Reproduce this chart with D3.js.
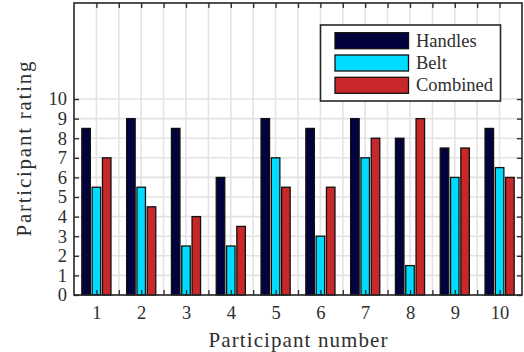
<!DOCTYPE html>
<html><head><meta charset="utf-8">
<script src="https://cdn.jsdelivr.net/npm/d3@7"></script>
<style>
html,body{margin:0;padding:0;background:#fff;}
svg{display:block;}
text{font-family:"Liberation Serif","DejaVu Serif",serif;fill:#2e2e2e;}
</style></head>
<body>
<svg id="chart" width="524" height="352"></svg>
<script>
const participants = [1,2,3,4,5,6,7,8,9,10];
const handles  = [8.5, 9, 8.5, 6, 9, 8.5, 9, 8, 7.5, 8.5];
const belt     = [5.5, 5.5, 2.5, 2.5, 7, 3, 7, 1.5, 6, 6.5];
const combined = [7, 4.5, 4, 3.5, 5.5, 5.5, 8, 9, 7.5, 6];
const seriesNames = ["Handles","Belt","Combined"];
const seriesColors = ["#02023c","#00dcff","#c8282a"];
const yTicks = [0,1,2,3,4,5,6,7,8,9,10];
const xTicks = participants;

const series = [handles, belt, combined];
const svg = d3.select("#chart");
const FONT = "Liberation Serif, DejaVu Serif, serif";
const L = 74, R = 522, T = 3, B = 295;
const x = d3.scaleLinear().domain([0.5, 10.5]).range([L, R]);
const y = d3.scaleLinear().domain([0, 14.9]).range([B, T]);
const halfTicks = d3.range(1, 10.5, 0.5);

// grid
const grid = svg.append("g");
grid.selectAll("line.v").data(halfTicks).join("line")
  .attr("x1", d => x(d)).attr("x2", d => x(d)).attr("y1", T).attr("y2", B)
  .attr("stroke", "#e3e3e3").attr("stroke-width", 1.6);
grid.selectAll("line.h").data(yTicks).join("line")
  .attr("x1", L).attr("x2", R).attr("y1", d => y(d)).attr("y2", d => y(d))
  .attr("stroke", "#e3e3e3").attr("stroke-width", 1.6);

// bars
const off = 0.23, bw = 0.19;
series.forEach((vals, si) => {
  svg.append("g").selectAll("rect").data(vals).join("rect")
    .attr("x", (d, i) => x(participants[i] + (si - 1) * off - bw / 2))
    .attr("width", x(bw) - x(0))
    .attr("y", d => y(d))
    .attr("height", d => y(0) - y(d))
    .attr("fill", seriesColors[si])
    .attr("stroke", "#111").attr("stroke-width", 1.3);
});

// axes
const tickLen = 5;
const axL = svg.append("g").attr("transform", `translate(${L},0)`)
  .call(d3.axisLeft(y).tickValues(yTicks).tickSize(-tickLen).tickPadding(7).tickFormat(d3.format("d")));
const axR = svg.append("g").attr("transform", `translate(${R},0)`)
  .call(d3.axisRight(y).tickValues(yTicks).tickSize(-tickLen).tickFormat(""));
const axB = svg.append("g").attr("transform", `translate(0,${B})`)
  .call(d3.axisBottom(x).tickValues(halfTicks).tickSize(-tickLen).tickPadding(11)
    .tickFormat(d => Number.isInteger(d) ? d : ""));
const axT = svg.append("g").attr("transform", `translate(0,${T})`)
  .call(d3.axisTop(x).tickValues(halfTicks).tickSize(-tickLen).tickFormat(""));
[axL, axR, axB, axT].forEach(a => {
  a.attr("font-family", FONT);
  a.select(".domain").remove();
  a.selectAll(".tick line").attr("stroke", "#262626").attr("stroke-width", 1.3);
  a.selectAll("text").attr("font-size", 18.5).attr("font-family", FONT).attr("fill", "#2e2e2e");
});
svg.append("rect").attr("x", L).attr("y", T).attr("width", R - L).attr("height", B - T)
  .attr("fill", "none").attr("stroke", "#262626").attr("stroke-width", 1.6);

// axis labels
svg.append("text").attr("x", (L + R) / 2).attr("y", 346.5)
  .attr("text-anchor", "middle").attr("font-size", 21).attr("font-family", FONT)
  .attr("textLength", 179).attr("lengthAdjust", "spacing").text("Participant number");
svg.append("text").attr("transform", `translate(31,${(T + B) / 2}) rotate(-90)`)
  .attr("text-anchor", "middle").attr("font-size", 21).attr("font-family", FONT)
  .attr("textLength", 175).attr("lengthAdjust", "spacing").text("Participant rating");

// legend
const lg = svg.append("g");
lg.append("rect").attr("x", 320.5).attr("y", 25).attr("width", 180).attr("height", 76)
  .attr("fill", "#fff").attr("stroke", "#262626").attr("stroke-width", 1.6);
seriesNames.forEach((n, i) => {
  const yy = 32.7 + i * 22.3;
  lg.append("rect").attr("x", 335).attr("y", yy).attr("width", 73.5).attr("height", 16)
    .attr("fill", seriesColors[i]).attr("stroke", "#111").attr("stroke-width", 1.3);
  lg.append("text").attr("x", 416).attr("y", yy + 14).attr("font-size", 18.5)
    .attr("font-family", FONT).text(n);
});
</script>
</body></html>
